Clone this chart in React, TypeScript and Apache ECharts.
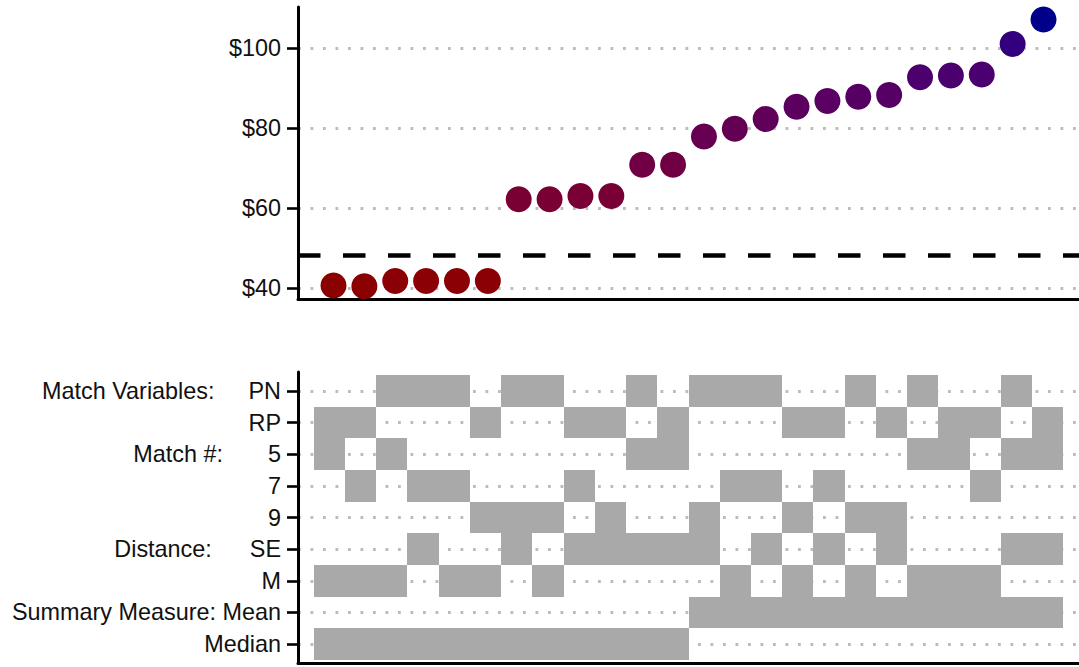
import React, { useEffect, useRef } from "react";
import * as echarts from "echarts";

// Estimated price for each specification, sorted ascending
const estimates = [
  40.6, 40.45, 41.75, 41.75, 41.75, 41.75, 62.2, 62.2, 63.0, 63.0, 70.8, 70.8,
  77.9, 79.8, 82.25, 85.3, 86.75, 87.8, 88.25, 92.7, 93.1, 93.4, 101.0, 107.1,
];
const threshold = 48.1;
const priceTicks = [40, 60, 80, 100];

// Analytic choices made in each specification (same order as estimates)
const matchVariables = [
  "RP", "RP", "PN", "PN", "PN", "RP", "PN", "PN", "RP", "RP", "PN", "RP",
  "PN", "PN", "PN", "RP", "RP", "PN", "RP", "PN", "RP", "RP", "PN", "RP",
];
const matchNumber = [
  "5", "7", "5", "7", "7", "9", "9", "9", "7", "9", "5", "5",
  "9", "7", "7", "9", "7", "9", "9", "5", "5", "7", "5", "5",
];
const distance = [
  "M", "M", "M", "SE", "M", "M", "SE", "M", "SE", "SE", "SE", "SE",
  "SE", "M", "SE", "M", "SE", "M", "SE", "M", "M", "M", "SE", "SE",
];
const summaryMeasure = [
  "Median", "Median", "Median", "Median", "Median", "Median",
  "Median", "Median", "Median", "Median", "Median", "Median",
  "Mean", "Mean", "Mean", "Mean", "Mean", "Mean",
  "Mean", "Mean", "Mean", "Mean", "Mean", "Mean",
];

// Rows of the choice panel, top to bottom
const rowLabels = ["PN", "RP", "5", "7", "9", "SE", "M", "Mean", "Median"];
const groupLabels: Record<string, string> = {
  PN: "Match Variables:",
  "5": "Match #:",
  SE: "Distance:",
  Mean: "Summary Measure:",
};
// rich-text style used for each group heading
const groupStyle: Record<string, string> = { PN: "pn", "5": "num", SE: "se", Mean: "sm" };

// ---- colour gradient (interpolated in CIELAB) ----
const Xn = 0.95047, Yn = 1, Zn = 1.08883;
const toLin = (c: number) => {
  c /= 255;
  return c <= 0.04045 ? c / 12.92 : Math.pow((c + 0.055) / 1.055, 2.4);
};
const fromLin = (c: number) => {
  const v = c <= 0.0031308 ? 12.92 * c : 1.055 * Math.pow(c, 1 / 2.4) - 0.055;
  return Math.round(Math.max(0, Math.min(1, v)) * 255);
};
const fl = (t: number) => (t > 0.008856 ? Math.cbrt(t) : 7.787 * t + 16 / 116);
const finv = (t: number) => (t > 0.206893 ? t * t * t : (t - 16 / 116) / 7.787);

function hexToLab(hex: string) {
  const r = toLin(parseInt(hex.slice(1, 3), 16));
  const g = toLin(parseInt(hex.slice(3, 5), 16));
  const b = toLin(parseInt(hex.slice(5, 7), 16));
  const X = (0.4124 * r + 0.3576 * g + 0.1805 * b) / Xn;
  const Y = (0.2126 * r + 0.7152 * g + 0.0722 * b) / Yn;
  const Z = (0.0193 * r + 0.1192 * g + 0.9505 * b) / Zn;
  const fx = fl(X), fy = fl(Y), fz = fl(Z);
  return [116 * fy - 16, 500 * (fx - fy), 200 * (fy - fz)];
}
function labToHex(L: number, a: number, bb: number) {
  const fy = (L + 16) / 116;
  const fx = fy + a / 500;
  const fz = fy - bb / 200;
  const X = finv(fx) * Xn, Y = finv(fy) * Yn, Z = finv(fz) * Zn;
  const r = 3.2406 * X - 1.5372 * Y - 0.4986 * Z;
  const g = -0.9689 * X + 1.8758 * Y + 0.0415 * Z;
  const b = 0.0557 * X - 0.204 * Y + 1.057 * Z;
  const h = (v: number) => fromLin(v).toString(16).padStart(2, "0");
  return "#" + h(r) + h(g) + h(b);
}
const lowLab = hexToLab("#8b0000");
const highLab = hexToLab("#00008b");
const vMin = Math.min(...estimates);
const vMax = Math.max(...estimates);
function gradientColor(v: number) {
  const t = (v - vMin) / (vMax - vMin);
  return labToHex(
    lowLab[0] + (highLab[0] - lowLab[0]) * t,
    lowLab[1] + (highLab[1] - lowLab[1]) * t,
    lowLab[2] + (highLab[2] - lowLab[2]) * t
  );
}

const FONT = "'Liberation Sans', Arial, Helvetica, sans-serif";
const FONT_SIZE = 23.4;
const TEXT_COLOR = "#111";
const dotted = { color: "#bcbcbc", width: 2.8, type: [2.8, 9.7] as number[] };

export default function App() {
  const ref = useRef<HTMLDivElement>(null);

  useEffect(() => {
    if (!ref.current) return;
    const chart = echarts.init(ref.current, undefined, { renderer: "svg" });

    const rowValue = (label: string) => rowLabels.length - rowLabels.indexOf(label);
    const tiles: number[][] = [];
    estimates.forEach((_, i) => {
      const spec = i + 1;
      [matchVariables[i], matchNumber[i], distance[i], summaryMeasure[i]].forEach((c) =>
        tiles.push([spec, rowValue(c)])
      );
    });

    const rowTicks = rowLabels.map((_, i) => i + 1);
    const txt = { fontSize: FONT_SIZE, fontFamily: FONT, color: TEXT_COLOR };

    chart.setOption({
      animation: false,
      textStyle: { fontFamily: FONT },
      grid: [
        { left: 298, top: 7, width: 783, height: 292 },
        { left: 298, top: 372, width: 783, height: 291 },
      ],
      xAxis: [
        {
          gridIndex: 0,
          type: "value",
          min: -0.15,
          max: 25.15,
          axisLine: { onZero: false, lineStyle: { color: "#000", width: 3 } },
          axisTick: { show: false },
          axisLabel: { show: false },
          splitLine: { show: false },
        },
        {
          gridIndex: 1,
          type: "value",
          min: 0,
          max: 25,
          axisLine: { onZero: false, lineStyle: { color: "#000", width: 3 } },
          axisTick: { show: false },
          axisLabel: { show: false },
          splitLine: { show: false },
        },
      ],
      yAxis: [
        {
          gridIndex: 0,
          type: "value",
          min: 37.25,
          max: 110.25,
          axisLine: { show: true, onZero: false, lineStyle: { color: "#000", width: 3 } },
          axisTick: {
            show: true,
            length: 11,
            customValues: priceTicks,
            lineStyle: { color: "#000", width: 2.6 },
          },
          axisLabel: {
            customValues: priceTicks,
            margin: 17,
            ...txt,
            formatter: (v: number) => "$" + v,
          },
          splitLine: { show: true, lineStyle: dotted },
        },
        {
          gridIndex: 1,
          type: "value",
          min: 0.4,
          max: 9.6,
          axisLine: { show: true, onZero: false, lineStyle: { color: "#000", width: 3 } },
          axisTick: {
            show: true,
            length: 11,
            customValues: rowTicks,
            lineStyle: { color: "#000", width: 2.6 },
          },
          axisLabel: {
            customValues: rowTicks,
            margin: 17,
            ...txt,
            formatter: (v: number) => {
              const label = rowLabels[rowLabels.length - v];
              const group = groupLabels[label];
              if (!group) return label;
              return `{${groupStyle[label]}|${group}}{v|${label}}`;
            },
            rich: {
              pn: { padding: [0, 34, 0, 0], ...txt },
              num: { padding: [0, 45, 0, 0], ...txt },
              se: { padding: [0, 38, 0, 0], ...txt },
              sm: { padding: [0, 6.5, 0, 0], ...txt },
              v: { ...txt },
            },
          },
          splitLine: { show: true, lineStyle: dotted },
        },
      ],
      series: [
        {
          type: "scatter",
          xAxisIndex: 0,
          yAxisIndex: 0,
          symbol: "circle",
          symbolSize: 26,
          data: estimates.map((v, i) => [i + 1, v]),
          itemStyle: {
            opacity: 1,
            color: (p: any) => gradientColor(p.value[1]),
          },
          markLine: {
            silent: true,
            symbol: "none",
            label: { show: false },
            lineStyle: { color: "#000", width: 4.5, type: [22.5, 22.5] },
            data: [{ yAxis: threshold }],
          },
        },
        {
          type: "custom",
          xAxisIndex: 1,
          yAxisIndex: 1,
          data: tiles,
          renderItem: (_params: any, api: any) => {
            const x = api.value(0);
            const y = api.value(1);
            const p0 = api.coord([x - 0.5, y + 0.5]);
            const p1 = api.coord([x + 0.5, y - 0.5]);
            // snap to whole pixels so neighbouring tiles join without seams
            const x0 = Math.round(p0[0]), y0 = Math.round(p0[1]);
            const x1 = Math.round(p1[0]), y1 = Math.round(p1[1]);
            return {
              type: "rect",
              shape: { x: x0, y: y0, width: x1 - x0, height: y1 - y0 },
              style: { fill: "#a9a9a9" },
            };
          },
        },
      ],
    });

    return () => chart.dispose();
  }, []);

  return (
    <div
      ref={ref}
      style={{ position: "absolute", left: 0, top: 0, width: 1079, height: 667, background: "#fff" }}
    />
  );
}
